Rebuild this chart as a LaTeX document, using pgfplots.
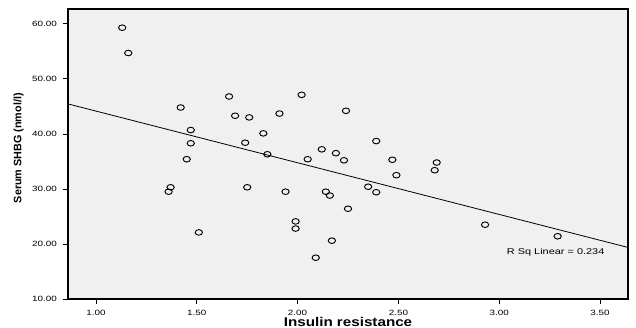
\documentclass[border=0pt]{standalone}
\usepackage{fontspec}
\setmainfont{Liberation Sans}
\newfontfamily\tickfont[FakeStretch=1.3]{Liberation Sans}
\newfontfamily\labfont[FakeStretch=1.2]{Liberation Sans}
\usepackage{pgfplots}
\pgfplotsset{compat=1.18}
\definecolor{bgc}{HTML}{F0F0F0}
\begin{document}
\begin{tikzpicture}
\path[use as bounding box] (-51pt,-21.75pt) rectangle (426pt,224.25pt);
\begin{axis}[
  at={(0,0)}, anchor=south west,
  scale only axis, width=420pt, height=217.5pt,
  xmin=0.861, xmax=3.639, ymin=10, ymax=62.7,
  xtick={1,1.5,2,2.5,3,3.5},
  ytick={10,20,30,40,50,60},
  xtick pos=left, ytick pos=left,
  tick align=outside,
  major tick length=3.75pt,
  tick style={black, line width=0.6pt},
  axis line style={black, line width=0.8pt},
  axis background/.style={fill=bgc},
  /pgf/number format/assume math mode=true,
  /pgf/number format/.cd, fixed, fixed zerofill, precision=2, /pgfplots/.cd,
  tick label style={font=\tickfont\fontsize{5.7}{6.5}\selectfont},
  xticklabel style={yshift=-1pt},
  yticklabel style={xshift=-1pt},
  xlabel={Insulin resistance},
  ylabel={Serum SHBG (nmol/l)},
  every axis x label/.style={at={(axis description cs:0.5,-0.0793)}, anchor=center, font=\labfont\bfseries\fontsize{9.5}{11}\selectfont},
  every axis y label/.style={at={(axis description cs:-0.0881,0.52)}, rotate=90, anchor=center, font=\bfseries\fontsize{8.1}{10}\selectfont},
  clip=true,
]
\addplot[black, line width=0.6pt] coordinates {(0.861,45.45) (3.639,19.37)};
\addplot[only marks, mark=o, mark size=2.1pt, mark options={xscale=1.3, black, line width=0.7pt}] coordinates {
(1.13,59.3) (1.16,54.7) (1.42,44.8) (1.66,46.8) (1.69,43.3) (1.76,43.0)
(1.47,40.7) (1.47,38.3) (1.74,38.4) (1.45,35.4) (1.37,30.3) (1.36,29.5)
(1.75,30.3) (1.51,22.1) (2.02,47.1) (1.91,43.7) (1.83,40.1) (2.24,44.2)
(2.39,38.7) (1.85,36.3) (2.12,37.2) (2.19,36.5) (2.05,35.4) (2.23,35.2)
(2.47,35.3) (2.69,34.8) (2.68,33.4) (2.49,32.5) (2.35,30.4) (2.39,29.4)
(1.94,29.5) (2.14,29.5) (2.16,28.8) (2.25,26.4) (1.99,24.1) (1.99,22.8)
(2.17,20.6) (2.09,17.5) (2.93,23.5) (3.29,21.4)
};
\node[font=\tickfont\fontsize{6.3}{7}\selectfont, anchor=center] at (axis cs:3.28,18.4) {R Sq Linear = 0.234};
\end{axis}
\end{tikzpicture}
\end{document}
